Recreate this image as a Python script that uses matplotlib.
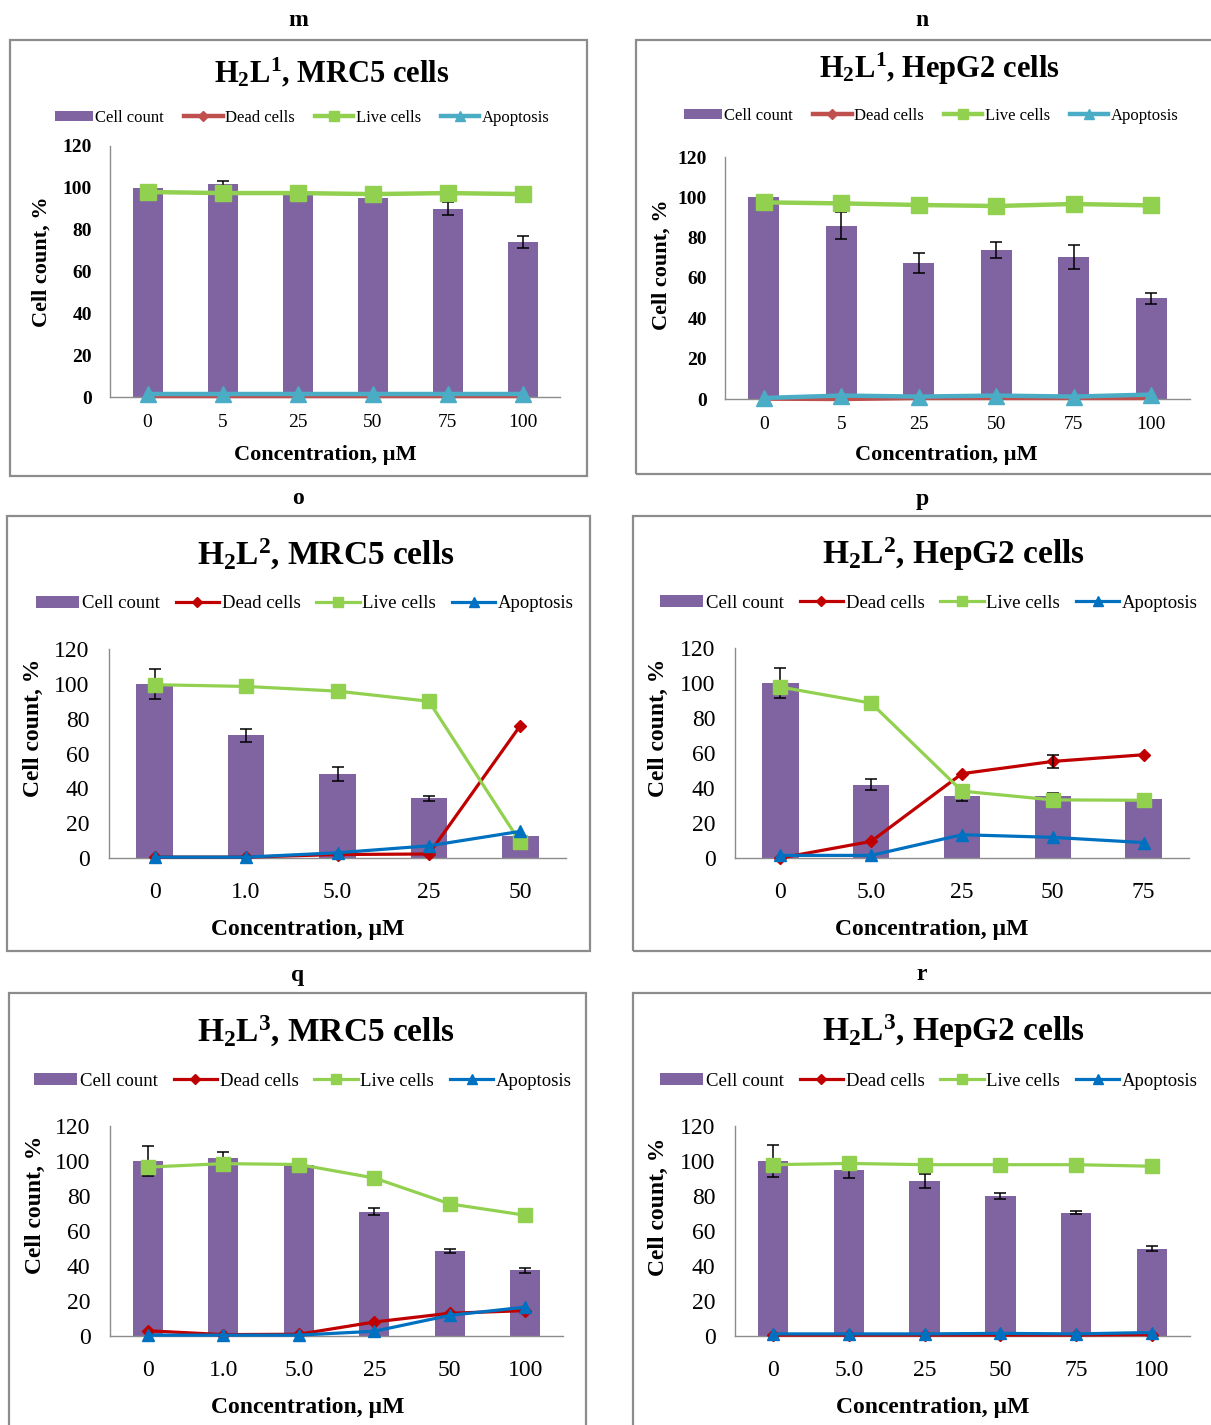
import matplotlib
matplotlib.use("Agg")
import matplotlib.pyplot as plt
from matplotlib.patches import Rectangle, Patch
from matplotlib.lines import Line2D
import numpy as np

plt.rcParams['font.family'] = ['Liberation Serif', 'DejaVu Serif']
plt.rcParams['mathtext.fontset'] = 'custom'
plt.rcParams['mathtext.rm'] = 'Liberation Serif'
plt.rcParams['mathtext.bf'] = 'Liberation Serif:bold'
plt.rcParams['mathtext.default'] = 'bf'

# ---------------- data ----------------
legend_labels = ["Cell count", "Dead cells", "Live cells", "Apoptosis"]

# m: H2L1, MRC5
m_conc = ["0", "5", "25", "50", "75", "100"]
m_cell = [100, 102, 98, 95, 90, 74]
m_err = [0, 1.2, 0, 0, 3, 3]
m_dead = [0.3, 0.3, 0.3, 0.3, 0.3, 0.3]
m_live = [98, 97.5, 97.5, 97, 97.5, 97]
m_apop = [1.5, 1.5, 1.5, 1.5, 1.5, 1.5]

# n: H2L1, HepG2
n_conc = ["0", "5", "25", "50", "75", "100"]
n_cell = [100, 86, 67.5, 74, 70.5, 50]
n_err = [0, 6.5, 4.8, 4, 5.8, 2.7]
n_dead = [0.2, 0, 0.5, 0.5, 0.5, 0.5]
n_live = [97.5, 97, 96.2, 95.7, 96.7, 96]
n_apop = [0.5, 1.7, 1.2, 1.7, 1.2, 2.2]

# o: H2L2, MRC5
o_conc = ["0", "1.0", "5.0", "25", "50"]
o_cell = [100, 70.5, 48, 34.2, 12.5]
o_err = [8.5, 3.8, 4, 1.2, 0]
o_dead = [0.5, 0.5, 2, 2.3, 76]
o_live = [99.5, 98.5, 95.8, 90, 9]
o_apop = [0.5, 0.5, 3, 7, 15.3]

# p: H2L2, HepG2
p_conc = ["0", "5.0", "25", "50", "75"]
p_cell = [100, 42, 35.6, 35.3, 33.5]
p_err = [8.5, 3.3, 3, 2, 0]
p_dead = [0, 9.5, 48.2, 55.2, 59]
p_dead_err = [0, 0, 0, 3.8, 0]
p_live = [97.7, 88.5, 38.2, 33.2, 33]
p_apop = [1.5, 1.5, 13.3, 11.8, 8.8]

# q: H2L3, MRC5
q_conc = ["0", "1.0", "5.0", "25", "50", "100"]
q_cell = [100, 102, 98, 71, 48.6, 37.5]
q_err = [8.7, 3, 2.5, 2, 1.2, 1.5]
q_dead = [3, 0.8, 1, 8, 13, 14.5]
q_live = [96.5, 98.5, 98, 90.3, 75.5, 69]
q_apop = [0.5, 0.5, 0.5, 2.7, 11.8, 16.5]

# r: H2L3, HepG2
r_conc = ["0", "5.0", "25", "50", "75", "100"]
r_cell = [100, 95, 88.5, 80, 70.5, 50]
r_err = [9, 4.5, 4, 1.8, 1, 1.5]
r_dead = [0.5, 0.5, 0.5, 0.5, 0.5, 0.8]
r_live = [97.9, 98.6, 97.9, 97.9, 97.9, 97]
r_apop = [1.2, 1.2, 1.2, 1.5, 1.2, 2]

# ---------------- layout ----------------
W, H = 1211, 1425
fig = plt.figure(figsize=(W / 100, H / 100), dpi=100)

def fx(x):
    return x / W

def fy(y):
    return 1 - y / H

PURPLE = "#8064A2"
TOP_COLORS = dict(dead="#C0504D", live="#92D050", apop="#4BACC6")
BOT_COLORS = dict(dead="#C00000", live="#92D050", apop="#0070C0")

panels = [
    dict(letter="m", conc=m_conc, cell=m_cell, err=m_err, dead=m_dead, live=m_live, apop=m_apop,
         title=r"H$_2$L$^1$, MRC5 cells", box=(10, 40, 587, 476), ax=(110, 146, 560, 397),
         title_xy=(332, 73), tsize=22, leg_xy=(302, 118), lsize=12, ytsize=14, ytbold=True, xtsize=14,
         ylab_xy=(42, 262), xlab_xy=(325, 455), labsize=16, colors=TOP_COLORS, top=True, letter_xy=(298, 20)),
    dict(letter="n", conc=n_conc, cell=n_cell, err=n_err, dead=n_dead, live=n_live, apop=n_apop,
         title=r"H$_2$L$^1$, HepG2 cells", box=(636, 40, 1215, 474), ax=(725, 157, 1190, 399),
         title_xy=(939, 69), tsize=22, leg_xy=(931, 116), lsize=12, ytsize=14, ytbold=True, xtsize=14,
         ylab_xy=(662, 265), xlab_xy=(946, 455), labsize=16, colors=TOP_COLORS, top=True, letter_xy=(922, 20)),
    dict(letter="o", conc=o_conc, cell=o_cell, err=o_err, dead=o_dead, live=o_live, apop=o_apop,
         title=r"H$_2$L$^2$, MRC5 cells", box=(7, 516, 590, 951), ax=(109, 649, 566, 858),
         title_xy=(326, 554), tsize=24, leg_xy=(305, 604), lsize=13.5, ytsize=17, ytbold=False, xtsize=17,
         ylab_xy=(33, 728), xlab_xy=(308, 930), labsize=17, colors=BOT_COLORS, top=False, letter_xy=(298, 499)),
    dict(letter="p", conc=p_conc, cell=p_cell, err=p_err, dead=p_dead, live=p_live, apop=p_apop,
         dead_err=p_dead_err,
         title=r"H$_2$L$^2$, HepG2 cells", box=(633, 516, 1215, 951), ax=(735, 648, 1189, 858),
         title_xy=(954, 554), tsize=24, leg_xy=(929, 603), lsize=13.5, ytsize=17, ytbold=False, xtsize=17,
         ylab_xy=(658, 728), xlab_xy=(932, 930), labsize=17, colors=BOT_COLORS, top=False, letter_xy=(922, 499)),
    dict(letter="q", conc=q_conc, cell=q_cell, err=q_err, dead=q_dead, live=q_live, apop=q_apop,
         title=r"H$_2$L$^3$, MRC5 cells", box=(9, 993, 586, 1430), ax=(110, 1126, 563, 1336),
         title_xy=(326, 1031), tsize=24, leg_xy=(303, 1081), lsize=13.5, ytsize=17, ytbold=False, xtsize=17,
         ylab_xy=(35, 1205), xlab_xy=(308, 1407), labsize=17, colors=BOT_COLORS, top=False, letter_xy=(298, 975)),
    dict(letter="r", conc=r_conc, cell=r_cell, err=r_err, dead=r_dead, live=r_live, apop=r_apop,
         title=r"H$_2$L$^3$, HepG2 cells", box=(633, 993, 1215, 1430), ax=(735, 1126, 1190, 1336),
         title_xy=(954, 1031), tsize=24, leg_xy=(929, 1081), lsize=13.5, ytsize=17, ytbold=False, xtsize=17,
         ylab_xy=(658, 1207), xlab_xy=(933, 1408), labsize=17, colors=BOT_COLORS, top=False, letter_xy=(922, 975)),
]

for p in panels:
    # panel frame
    x0, y0, x1, y1 = p["box"]
    fig.patches.append(Rectangle((fx(x0), fy(y1)), fx(x1 - x0), (y1 - y0) / H,
                                 transform=fig.transFigure, fill=False,
                                 edgecolor="#8c8c8c", linewidth=1.6, zorder=0))
    fig.text(fx(p["letter_xy"][0]), fy(p["letter_xy"][1]), p["letter"], ha="center", va="center",
             fontsize=17, fontweight="bold")
    fig.text(fx(p["title_xy"][0]), fy(p["title_xy"][1]), p["title"], ha="center", va="center",
             fontsize=p["tsize"], fontweight="bold")

    ax0, ay0, ax1, ay1 = p["ax"]
    ax = fig.add_axes([fx(ax0), fy(ay1), fx(ax1 - ax0), (ay1 - ay0) / H])
    n = len(p["conc"])
    x = np.arange(n)
    c = p["colors"]
    top = p["top"]

    ax.bar(x, p["cell"], width=0.4, color=PURPLE, zorder=2)
    errs = p["err"]
    mask = [e > 0 for e in errs]
    ax.errorbar(x[mask], np.array(p["cell"])[mask], yerr=np.array(errs)[mask], fmt="none",
                ecolor="black", elinewidth=1.1, capsize=4, capthick=1.1, zorder=3)

    lw = 3.2 if top else 2.3
    ax.plot(x, p["dead"], color=c["dead"], lw=lw, marker="D", ms=5 if top else 6,
            zorder=4, clip_on=False)
    if "dead_err" in p:
        de = np.array(p["dead_err"])
        mk = de > 0
        ax.errorbar(x[mk], np.array(p["dead"])[mk], yerr=de[mk], fmt="none", ecolor="black",
                    elinewidth=1.1, capsize=4, capthick=1.1, zorder=4.5)
    ax.plot(x, p["live"], color=c["live"], lw=lw, marker="s", ms=11 if top else 10,
            zorder=5, clip_on=False)
    ax.plot(x, p["apop"], color=c["apop"], lw=lw, marker="^", ms=11 if top else 9,
            zorder=6, clip_on=False)

    ax.set_xlim(-0.5, n - 0.5)
    ax.set_ylim(0, 120)
    ax.set_yticks(range(0, 121, 20))
    ax.set_xticks(x)
    ax.set_xticklabels(p["conc"], fontsize=p["xtsize"])
    ax.tick_params(axis="both", length=0)
    ax.tick_params(axis="y", pad=13 if top else 14, labelsize=p["ytsize"])
    ax.tick_params(axis="x", pad=12 if top else 17)
    if p["ytbold"]:
        for t in ax.get_yticklabels():
            t.set_fontweight("bold")
    for s in ["top", "right"]:
        ax.spines[s].set_visible(False)
    for s in ["left", "bottom"]:
        ax.spines[s].set_color("#8c8c8c")
        ax.spines[s].set_linewidth(1.0)
    ax.set_facecolor("none")

    fig.text(fx(p["ylab_xy"][0]), fy(p["ylab_xy"][1]), "Cell count, %", rotation=90,
             ha="center", va="center", fontsize=p["labsize"], fontweight="bold")
    fig.text(fx(p["xlab_xy"][0]), fy(p["xlab_xy"][1]), "Concentration, \u00b5M",
             ha="center", va="center", fontsize=p["labsize"], fontweight="bold")

    handles = [
        Patch(facecolor=PURPLE, edgecolor="none"),
        Line2D([], [], color=c["dead"], lw=lw, marker="D", ms=5),
        Line2D([], [], color=c["live"], lw=lw, marker="s", ms=7),
        Line2D([], [], color=c["apop"], lw=lw, marker="^", ms=7),
    ]
    fig.legend(handles, legend_labels, loc="center", ncol=4,
               bbox_to_anchor=(fx(p["leg_xy"][0]), fy(p["leg_xy"][1])),
               bbox_transform=fig.transFigure, frameon=False, fontsize=p["lsize"],
               handlelength=2.3, handletextpad=0.15, columnspacing=1.2 if top else 0.85,
               handleheight=0.6)

fig.savefig("out.png", dpi=100)
